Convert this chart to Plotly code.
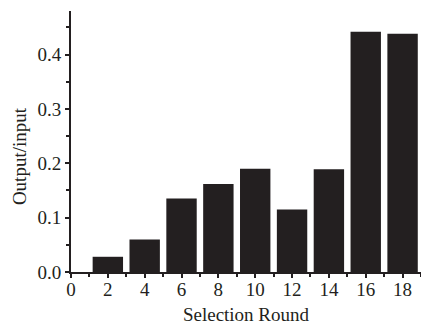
import plotly.graph_objects as go

rounds = [2, 4, 6, 8, 10, 12, 14, 16, 18]
ratio = [0.028, 0.060, 0.135, 0.162, 0.190, 0.115, 0.189, 0.442, 0.438]
x_ticks = list(range(0, 20, 2))
y_ticks = [0.0, 0.1, 0.2, 0.3, 0.4]
y_tick_labels = ["0.0", "0.1", "0.2", "0.3", "0.4"]

fig = go.Figure(go.Bar(x=rounds, y=ratio, width=1.65,
                       marker=dict(color="#231f20", line=dict(width=0))))

font = dict(family="Liberation Serif, Times New Roman, serif", size=19, color="#231f20")

fig.update_layout(
    width=421, height=325,
    margin=dict(l=71, r=0, t=11, b=53),
    paper_bgcolor="white", plot_bgcolor="white",
    font=font, showlegend=False,
)
fig.update_xaxes(
    range=[0, 19], tickvals=x_ticks, ticktext=[str(v) for v in x_ticks],
    showgrid=False, zeroline=False, showline=True, linecolor="#231f20", linewidth=2,
    ticks="outside", ticklen=4, tickwidth=2, tickcolor="#231f20",
    minor=dict(ticks="outside", dtick=1, tick0=0, ticklen=3, tickwidth=2, tickcolor="#231f20"),
    title=dict(text="Selection Round", font=dict(size=19), standoff=13),
    tickfont=dict(size=19), automargin=False, ticklabelstandoff=-5,
)
fig.update_yaxes(
    range=[0, 0.48], tickvals=y_ticks, ticktext=y_tick_labels,
    showgrid=False, zeroline=False, showline=True, linecolor="#231f20", linewidth=2,
    ticks="outside", ticklen=4, tickwidth=2, tickcolor="#231f20",
    minor=dict(ticks="outside", dtick=0.05, tick0=0, ticklen=3, tickwidth=2, tickcolor="#231f20"),
    tickfont=dict(size=19), automargin=False,
)
fig.add_annotation(
    text="Output/input", textangle=-90, showarrow=False,
    xref="paper", yref="paper", x=0, y=0.444, xanchor="center", yanchor="middle",
    xshift=-52, font=dict(size=19),
)

fig.write_html(
    "out.html",
    config={"displayModeBar": False},
    post_script="document.body.style.margin='0';document.body.style.overflow='hidden';",
)
